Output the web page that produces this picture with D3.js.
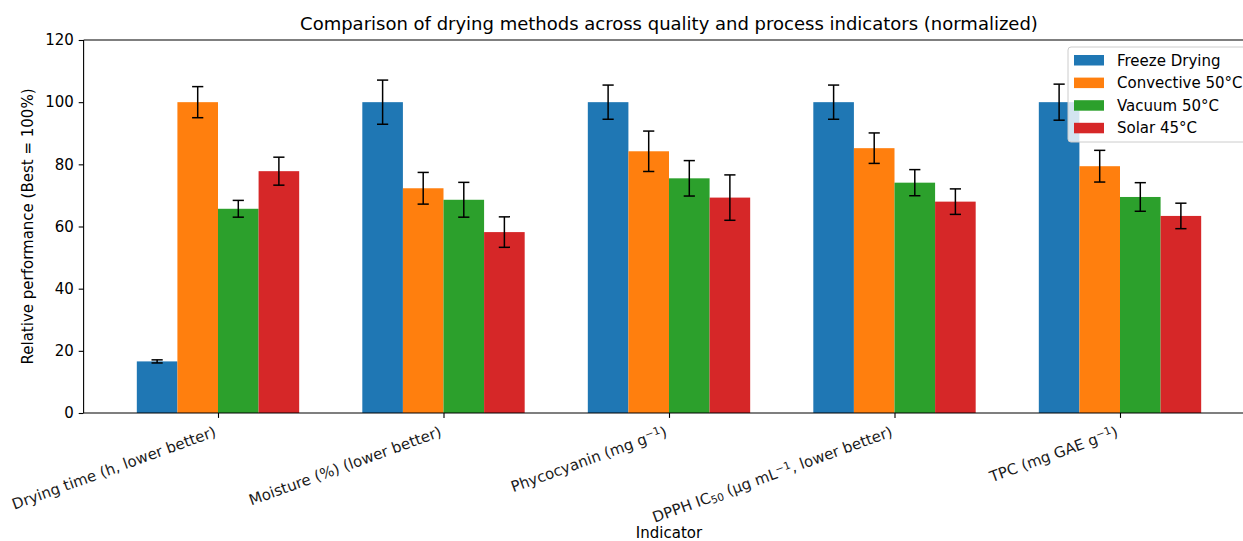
<!DOCTYPE html>
<html>
<head>
<meta charset="utf-8">
<script src="https://cdn.jsdelivr.net/npm/d3@7"></script>
<style>
  html, body { margin: 0; padding: 0; background: #fff; }
  svg { display: block; font-family: "DejaVu Sans", sans-serif; }
</style>
</head>
<body>
<svg id="chart" width="1243" height="541"></svg>
<script>
// Indicator labels; each part is [text, "sup" | "sub" | null]
const categories = [
  [["Drying time (h, lower better)", null]],
  [["Moisture (%) (lower better)", null]],
  [["Phycocyanin (mg g", null], ["\u22121", "sup"], [")", null]],
  [["DPPH IC", null], ["50", "sub"], [" (\u03bcg mL", null], ["\u22121", "sup"], [", lower better)", null]],
  [["TPC (mg GAE g", null], ["\u22121", "sup"], [")", null]]
];

const seriesNames = ["Freeze Drying", "Convective 50\u00b0C", "Vacuum 50\u00b0C", "Solar 45\u00b0C"];
const seriesColors = ["#1f77b4", "#ff7f0e", "#2ca02c", "#d62728"];

// Relative performance (%) per method, one value per indicator
const freezeValues     = [16.6, 100, 100, 100, 100];
const convectiveValues = [100, 72.3, 84.2, 85.2, 79.4];
const vacuumValues     = [65.7, 68.6, 75.5, 74.1, 69.5];
const solarValues      = [77.8, 58.2, 69.3, 68.0, 63.4];

// Error half-widths
const freezeErr     = [0.5, 7.1, 5.5, 5.5, 5.8];
const convectiveErr = [5.0, 5.1, 6.5, 4.9, 5.1];
const vacuumErr     = [2.7, 5.6, 5.7, 4.2, 4.6];
const solarErr      = [4.5, 4.9, 7.3, 4.1, 4.1];

const yTicks = [0, 20, 40, 60, 80, 100, 120];

const seriesValues = [freezeValues, convectiveValues, vacuumValues, solarValues];
const seriesErrs = [freezeErr, convectiveErr, vacuumErr, solarErr];

const FS = 15;        // tick / label font size
const FS_SMALL = 10.5; // super/subscripts
const FS_TITLE = 18;

const svg = d3.select("#chart");
const plotLeft = 83.6, plotTop = 40, plotBottom = 413;
const barWidth = 0.18;
// Axis x range in category units (bar extent plus 5% margins)
const xMin = -0.596, xMax = 4.596;
const pxPerUnit = 225.5;
const plotRight = plotLeft + (xMax - xMin) * pxPerUnit;

const x = d3.scaleLinear().domain([xMin, xMax]).range([plotLeft, plotRight]);
const y = d3.scaleLinear().domain([0, 120]).range([plotBottom, plotTop]);

// Bars
const bars = svg.append("g");
seriesValues.forEach((vals, s) => {
  const offset = (s - 1.5) * barWidth;
  bars.selectAll(null)
    .data(vals.map((v, i) => ({ v, i })))
    .enter().append("rect")
    .attr("x", d => x(d.i + offset - barWidth / 2))
    .attr("width", d => x(d.i + offset + barWidth / 2) - x(d.i + offset - barWidth / 2))
    .attr("y", d => y(d.v))
    .attr("height", d => y(0) - y(d.v))
    .attr("fill", seriesColors[s]);
});

// Error bars
const errs = svg.append("g").attr("stroke", "#000").attr("stroke-width", 1.5);
const cap = 5.6;
seriesValues.forEach((vals, s) => {
  const offset = (s - 1.5) * barWidth;
  vals.forEach((v, i) => {
    const cx = x(i + offset);
    const e = seriesErrs[s][i];
    errs.append("line").attr("x1", cx).attr("x2", cx).attr("y1", y(v - e)).attr("y2", y(v + e));
    errs.append("line").attr("x1", cx - cap).attr("x2", cx + cap).attr("y1", y(v - e)).attr("y2", y(v - e));
    errs.append("line").attr("x1", cx - cap).attr("x2", cx + cap).attr("y1", y(v + e)).attr("y2", y(v + e));
  });
});

// Y axis
const yAxis = d3.axisLeft(y).tickValues(yTicks).tickSize(4.9).tickPadding(4.9);
const gy = svg.append("g").attr("transform", `translate(${plotLeft},0)`).call(yAxis);
gy.select(".domain").attr("stroke", "#000").attr("stroke-width", 1.1).attr("d", `M0,${plotBottom}V${plotTop}`);
gy.selectAll(".tick line").attr("stroke", "#000").attr("stroke-width", 1.1);
gy.selectAll(".tick text").attr("font-size", FS).attr("fill", "#000")
  .attr("font-family", "DejaVu Sans, sans-serif");

// X axis
const xAxis = d3.axisBottom(x).tickValues(d3.range(categories.length)).tickSize(4.9).tickFormat("");
const gx = svg.append("g").attr("transform", `translate(0,${plotBottom})`).call(xAxis);
gx.select(".domain").attr("stroke", "#000").attr("stroke-width", 1.1).attr("d", `M${plotLeft},0H${plotRight}`);
gx.selectAll(".tick line").attr("stroke", "#000").attr("stroke-width", 1.1);

// Top spine
svg.append("line").attr("x1", plotLeft).attr("x2", plotRight).attr("y1", plotTop).attr("y2", plotTop)
  .attr("stroke", "#000").attr("stroke-width", 1.1);

// Rotated category labels
categories.forEach((parts, i) => {
  const tx = x(i) - 1, ty = 436;
  const t = svg.append("text")
    .attr("transform", `translate(${tx},${ty}) rotate(-20)`)
    .attr("text-anchor", "end")
    .attr("font-size", FS)
    .attr("fill", "#1a1a1a");
  parts.forEach(([str, kind]) => {
    const ts = t.append("tspan").text(str);
    if (kind === "sup") ts.attr("font-size", FS_SMALL).attr("baseline-shift", "45%");
    if (kind === "sub") ts.attr("font-size", FS_SMALL).attr("baseline-shift", "-15%");
  });
});

// Title and axis labels
svg.append("text").attr("x", (plotLeft + plotRight) / 2).attr("y", 30)
  .attr("text-anchor", "middle").attr("font-size", FS_TITLE).attr("fill", "#000")
  .text("Comparison of drying methods across quality and process indicators (normalized)");
svg.append("text").attr("x", (plotLeft + plotRight) / 2).attr("y", 538)
  .attr("text-anchor", "middle").attr("font-size", FS).attr("fill", "#000")
  .text("Indicator");
svg.append("text").attr("transform", `translate(33,${(plotTop + plotBottom) / 2}) rotate(-90)`)
  .attr("text-anchor", "middle").attr("font-size", FS).attr("fill", "#000")
  .text("Relative performance (Best = 100%)");

// Legend
const lg = svg.append("g").attr("transform", "translate(1068,47)");
lg.append("rect").attr("x", 0).attr("y", 0).attr("width", 200).attr("height", 95)
  .attr("rx", 3).attr("fill", "rgba(255,255,255,0.8)").attr("stroke", "#cccccc").attr("stroke-width", 1);
seriesNames.forEach((name, s) => {
  const ry = 8 + s * 22.6;
  lg.append("rect").attr("x", 6).attr("y", ry).attr("width", 30).attr("height", 10.5).attr("fill", seriesColors[s]);
  lg.append("text").attr("x", 49).attr("y", ry + 10.5).attr("font-size", FS).attr("fill", "#000").text(name);
});
</script>
</body>
</html>
